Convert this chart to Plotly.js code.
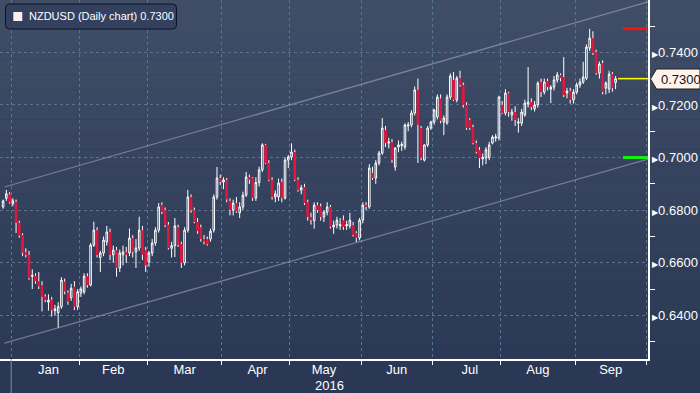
<!DOCTYPE html>
<html>
<head>
<meta charset="utf-8">
<script src="https://cdn.plot.ly/plotly-3.0.1.min.js"></script>
<style>
html,body{margin:0;padding:0;background:#2a3755;}
#chart{width:700px;height:393px;}
</style>
</head>
<body>
<div id="chart"></div>
<script>
// ---------------- DATA ----------------
const dates = [
'2015-12-29','2015-12-30','2015-12-31',
'2016-01-01','2016-01-04','2016-01-05','2016-01-06','2016-01-07','2016-01-08','2016-01-11','2016-01-12','2016-01-13','2016-01-14','2016-01-15','2016-01-18','2016-01-19','2016-01-20','2016-01-21','2016-01-22','2016-01-25','2016-01-26','2016-01-27','2016-01-28','2016-01-29',
'2016-02-01','2016-02-02','2016-02-03','2016-02-04','2016-02-05','2016-02-08','2016-02-09','2016-02-10','2016-02-11','2016-02-12','2016-02-15','2016-02-16','2016-02-17','2016-02-18','2016-02-19','2016-02-22','2016-02-23','2016-02-24','2016-02-25','2016-02-26','2016-02-29',
'2016-03-01','2016-03-02','2016-03-03','2016-03-04','2016-03-07','2016-03-08','2016-03-09','2016-03-10','2016-03-11','2016-03-14','2016-03-15','2016-03-16','2016-03-17','2016-03-18','2016-03-21','2016-03-22','2016-03-23','2016-03-24','2016-03-25','2016-03-28','2016-03-29','2016-03-30','2016-03-31',
'2016-04-01','2016-04-04','2016-04-05','2016-04-06','2016-04-07','2016-04-08','2016-04-11','2016-04-12','2016-04-13','2016-04-14','2016-04-15','2016-04-18','2016-04-19','2016-04-20','2016-04-21','2016-04-22','2016-04-25','2016-04-26','2016-04-27','2016-04-28','2016-04-29',
'2016-05-02','2016-05-03','2016-05-04','2016-05-05','2016-05-06','2016-05-09','2016-05-10','2016-05-11','2016-05-12','2016-05-13','2016-05-16','2016-05-17','2016-05-18','2016-05-19','2016-05-20','2016-05-23','2016-05-24','2016-05-25','2016-05-26','2016-05-27','2016-05-30','2016-05-31',
'2016-06-01','2016-06-02','2016-06-03','2016-06-06','2016-06-07','2016-06-08','2016-06-09','2016-06-10','2016-06-13','2016-06-14','2016-06-15','2016-06-16','2016-06-17','2016-06-20','2016-06-21','2016-06-22','2016-06-23','2016-06-24','2016-06-27','2016-06-28','2016-06-29','2016-06-30',
'2016-07-01','2016-07-04','2016-07-05','2016-07-06','2016-07-07','2016-07-08','2016-07-11','2016-07-12','2016-07-13','2016-07-14','2016-07-15','2016-07-18','2016-07-19','2016-07-20','2016-07-21','2016-07-22','2016-07-25','2016-07-26','2016-07-27','2016-07-28','2016-07-29',
'2016-08-01','2016-08-02','2016-08-03','2016-08-04','2016-08-05','2016-08-08','2016-08-09','2016-08-10','2016-08-11','2016-08-12','2016-08-15','2016-08-16','2016-08-17','2016-08-18','2016-08-19','2016-08-22','2016-08-23','2016-08-24','2016-08-25','2016-08-26','2016-08-29','2016-08-30','2016-08-31',
'2016-09-01','2016-09-02','2016-09-05','2016-09-06','2016-09-07','2016-09-08','2016-09-09','2016-09-12','2016-09-13','2016-09-14','2016-09-15','2016-09-16','2016-09-19'
];
const openPx = [
0.6812,0.6845,0.6860,
0.6825,0.6832,0.6752,0.6705,0.6640,0.6630,0.6548,0.6550,0.6530,0.6515,0.6472,0.6450,0.6460,0.6418,0.6410,0.6433,0.6528,0.6486,0.6467,0.6510,0.6433,
0.6485,0.6489,0.6549,0.6515,0.6667,0.6724,0.6620,0.6637,0.6679,0.6717,0.6630,0.6648,0.6580,0.6630,0.6641,0.6637,0.6694,0.6641,0.6656,0.6724,0.6648,
0.6603,0.6637,0.6675,0.6724,0.6820,0.6800,0.6745,0.6655,0.6665,0.6735,0.6672,0.6600,0.6724,0.6850,0.6800,0.6755,0.6735,0.6690,0.6690,0.6690,0.6724,0.6850,0.6922,
0.6907,0.6915,0.6835,0.6800,0.6827,0.6790,0.6812,0.6857,0.6926,0.6922,0.6846,0.6905,0.6953,0.7048,0.6979,0.6915,0.6850,0.6850,0.6907,0.6846,0.6990,
0.7002,0.7021,0.6915,0.6876,0.6888,0.6831,0.6774,0.6760,0.6819,0.6815,0.6774,0.6793,0.6812,0.6736,0.6743,0.6740,0.6762,0.6740,0.6740,0.6743,0.6713,0.6694,
0.6762,0.6819,0.6812,0.6941,0.6922,0.6979,0.7017,0.7105,0.7055,0.7059,0.6964,0.7040,0.7045,0.7040,0.7120,0.7124,0.7169,0.7257,0.7112,0.6990,0.7048,0.7112,
0.7135,0.7154,0.7225,0.7135,0.7131,0.7230,0.7295,0.7219,0.7302,0.7276,0.7200,0.7143,0.7116,0.7055,0.7029,0.6995,0.6998,0.7000,0.7055,0.7074,0.7074,
0.7200,0.7169,0.7245,0.7162,0.7173,0.7131,0.7131,0.7162,0.7203,0.7211,0.7185,0.7200,0.7287,0.7249,0.7291,0.7260,0.7268,0.7295,0.7314,0.7306,0.7245,0.7253,0.7219,
0.7249,0.7276,0.7287,0.7302,0.7416,0.7454,0.7401,0.7321,0.7359,0.7264,0.7260,0.7317,0.7285
];
const highPx = [
0.6840,0.6877,0.6868,
0.6845,0.6840,0.6760,0.6712,0.6655,0.6645,0.6575,0.6560,0.6565,0.6530,0.6480,0.6480,0.6470,0.6440,0.6450,0.6545,0.6540,0.6495,0.6520,0.6530,0.6500,
0.6510,0.6560,0.6560,0.6675,0.6756,0.6735,0.6645,0.6700,0.6740,0.6730,0.6665,0.6660,0.6650,0.6665,0.6660,0.6730,0.6705,0.6690,0.6775,0.6740,0.6660,
0.6645,0.6690,0.6735,0.6827,0.6830,0.6810,0.6755,0.6680,0.6770,0.6745,0.6680,0.6735,0.6877,0.6860,0.6810,0.6770,0.6745,0.6705,0.6700,0.6730,0.6860,0.6964,0.6935,
0.6925,0.6922,0.6845,0.6840,0.6850,0.6830,0.6870,0.6945,0.6935,0.6925,0.6925,0.6965,0.7054,0.7052,0.6990,0.6925,0.6875,0.6920,0.6920,0.7000,0.7010,
0.7054,0.7030,0.6925,0.6895,0.6900,0.6840,0.6790,0.6830,0.6830,0.6825,0.6800,0.6830,0.6820,0.6760,0.6775,0.6770,0.6780,0.6760,0.6790,0.6755,0.6720,0.6770,
0.6830,0.6830,0.6975,0.6965,0.6990,0.7025,0.7150,0.7120,0.7075,0.7070,0.7040,0.7065,0.7060,0.7130,0.7135,0.7180,0.7270,0.7300,0.7120,0.7050,0.7120,0.7140,
0.7185,0.7240,0.7240,0.7160,0.7240,0.7320,0.7325,0.7310,0.7330,0.7285,0.7210,0.7150,0.7125,0.7065,0.7040,0.7015,0.7040,0.7060,0.7085,0.7090,0.7235,
0.7215,0.7260,0.7250,0.7185,0.7195,0.7150,0.7185,0.7220,0.7344,0.7225,0.7215,0.7290,0.7300,0.7300,0.7300,0.7275,0.7310,0.7325,0.7320,0.7382,0.7265,0.7265,0.7260,
0.7285,0.7300,0.7364,0.7430,0.7489,0.7480,0.7410,0.7365,0.7370,0.7290,0.7330,0.7325,0.7310
];
const lowPx = [
0.6805,0.6835,0.6825,
0.6815,0.6713,0.6695,0.6625,0.6620,0.6535,0.6500,0.6520,0.6500,0.6415,0.6450,0.6418,0.6395,0.6400,0.6353,0.6425,0.6480,0.6440,0.6455,0.6420,0.6420,
0.6470,0.6480,0.6505,0.6510,0.6660,0.6620,0.6565,0.6625,0.6665,0.6610,0.6600,0.6547,0.6565,0.6590,0.6600,0.6625,0.6620,0.6580,0.6645,0.6610,0.6565,
0.6585,0.6625,0.6665,0.6715,0.6785,0.6735,0.6650,0.6620,0.6622,0.6660,0.6580,0.6590,0.6715,0.6790,0.6750,0.6710,0.6680,0.6670,0.6665,0.6680,0.6715,0.6840,0.6895,
0.6880,0.6830,0.6780,0.6780,0.6790,0.6770,0.6800,0.6850,0.6900,0.6835,0.6835,0.6890,0.6945,0.6975,0.6910,0.6840,0.6830,0.6835,0.6830,0.6840,0.6960,
0.6990,0.6910,0.6870,0.6860,0.6820,0.6760,0.6745,0.6730,0.6790,0.6760,0.6755,0.6780,0.6730,0.6710,0.6730,0.6725,0.6725,0.6725,0.6730,0.6700,0.6679,0.6685,
0.6750,0.6800,0.6805,0.6915,0.6900,0.6970,0.7010,0.7040,0.7035,0.6980,0.6950,0.7020,0.7025,0.7030,0.7100,0.7115,0.7160,0.6979,0.6990,0.6985,0.7040,0.7105,
0.7125,0.7145,0.7130,0.7085,0.7125,0.7220,0.7215,0.7210,0.7270,0.7190,0.7105,0.7105,0.7050,0.7015,0.6960,0.6970,0.6975,0.6990,0.7050,0.7060,0.7065,
0.7165,0.7160,0.7155,0.7140,0.7120,0.7095,0.7120,0.7155,0.7190,0.7180,0.7175,0.7190,0.7230,0.7240,0.7255,0.7207,0.7255,0.7285,0.7290,0.7230,0.7225,0.7205,0.7205,
0.7240,0.7265,0.7280,0.7295,0.7405,0.7390,0.7315,0.7300,0.7240,0.7240,0.7245,0.7250,0.7260
];
const closePx = [
0.6835,0.6862,0.6830,
0.6835,0.6752,0.6703,0.6638,0.6630,0.6541,0.6552,0.6530,0.6510,0.6470,0.6458,0.6458,0.6420,0.6425,0.6433,0.6534,0.6490,0.6452,0.6503,0.6432,0.6490,
0.6500,0.6549,0.6515,0.6667,0.6724,0.6629,0.6637,0.6686,0.6717,0.6630,0.6648,0.6580,0.6637,0.6641,0.6630,0.6694,0.6641,0.6656,0.6724,0.6630,0.6591,
0.6637,0.6675,0.6724,0.6812,0.6793,0.6743,0.6656,0.6665,0.6740,0.6668,0.6600,0.6724,0.6850,0.6800,0.6755,0.6720,0.6690,0.6680,0.6670,0.6720,0.6850,0.6922,0.6907,
0.6915,0.6840,0.6800,0.6827,0.6795,0.6812,0.6857,0.6926,0.6915,0.6846,0.6905,0.6953,0.7048,0.6979,0.6915,0.6850,0.6862,0.6903,0.6846,0.6990,0.7002,
0.7021,0.6915,0.6876,0.6885,0.6827,0.6774,0.6762,0.6819,0.6800,0.6774,0.6793,0.6812,0.6736,0.6743,0.6762,0.6745,0.6736,0.6745,0.6762,0.6705,0.6694,0.6762,
0.6819,0.6812,0.6960,0.6922,0.6979,0.7017,0.7112,0.7055,0.7059,0.6990,0.7036,0.7048,0.7050,0.7124,0.7124,0.7169,0.7257,0.7124,0.6998,0.7048,0.7112,0.7135,
0.7181,0.7230,0.7140,0.7150,0.7230,0.7310,0.7219,0.7302,0.7276,0.7200,0.7112,0.7112,0.7055,0.7021,0.6998,0.7000,0.7030,0.7048,0.7078,0.7078,0.7230,
0.7169,0.7245,0.7173,0.7173,0.7143,0.7135,0.7173,0.7207,0.7211,0.7192,0.7200,0.7283,0.7249,0.7287,0.7268,0.7268,0.7295,0.7314,0.7302,0.7238,0.7253,0.7219,0.7249,
0.7276,0.7287,0.7306,0.7420,0.7454,0.7397,0.7321,0.7355,0.7249,0.7283,0.7317,0.7264,0.7300
];
const priceTicks = [0.64, 0.66, 0.68, 0.70, 0.72, 0.74];
const priceTickLabels = ['0.6400','0.6600','0.6800','0.7000','0.7200','0.7400'];
const lastPrice = 0.7300;
const redLevel = 0.7490;
const greenLevel = 0.7000;
const channelUpper = [0.6888, 0.7592];
const channelLower = [0.6294, 0.6994];
const seriesName = 'NZDUSD (Daily chart)';
const yearLabel = '2016';

// ---------------- BUILD ----------------
const W = 700, H = 393, ML = 0, MR = 52, MT = 0, MB = 34;
const PW = W - ML - MR, PH = H - MT - MB;
const px = x => (x - ML) / PW;          // pixel -> paper x
const py = y => 1 - (y - MT) / PH;      // pixel -> paper y

const xs = dates.map(d => d + ' 12:00');
const bodyHi = openPx.map((o, i) => Math.max(o, closePx[i]));
const bodyLo = openPx.map((o, i) => Math.min(o, closePx[i]));

const wx = [], wy = [];
xs.forEach((x, i) => {
  wx.push(x, x, null, x, x, null);
  wy.push(lowPx[i], bodyLo[i], null, bodyHi[i], highPx[i], null);
});

const wicks = {
  type: 'scatter', mode: 'lines', x: wx, y: wy,
  line: {color: '#ffffff', width: 1}, hoverinfo: 'skip', showlegend: false,
  connectgaps: false
};
const bodies = {
  type: 'candlestick', x: xs, open: openPx, high: bodyHi, low: bodyLo, close: closePx,
  increasing: {line: {color: '#ffffff', width: 1}, fillcolor: 'rgba(0,0,0,0)'},
  decreasing: {line: {color: '#e3173e', width: 1}, fillcolor: '#e3173e'},
  whiskerwidth: 0, hoverinfo: 'skip', showlegend: false
};

const shapes = [];
// background bands (gradient)
const N = 24;
const c0 = [64, 77, 103], c1 = [44, 57, 86];
for (let i = 0; i < N; i++) {
  const t = i / (N - 1);
  const c = c0.map((v, j) => Math.round(v + (c1[j] - v) * t));
  shapes.push({type: 'rect', xref: 'paper', yref: 'paper', layer: 'below',
    x0: 0, x1: W / PW, y0: 1 - (i + 1) / N, y1: 1 - i / N,
    fillcolor: `rgb(${c[0]},${c[1]},${c[2]})`, line: {width: 0}});
}
// channel lines
shapes.push({type: 'line', xref: 'paper', yref: 'y', x0: px(4.5), x1: 1, y0: channelUpper[0], y1: channelUpper[1],
  line: {color: 'rgba(200,208,222,0.42)', width: 1.3}});
shapes.push({type: 'line', xref: 'paper', yref: 'y', x0: px(4.5), x1: 1, y0: channelLower[0], y1: channelLower[1],
  line: {color: 'rgba(200,208,222,0.42)', width: 1.3}});
// level lines
shapes.push({type: 'line', xref: 'paper', yref: 'y', x0: px(623), x1: 1, y0: redLevel, y1: redLevel, line: {color: '#ff1010', width: 3}});
shapes.push({type: 'line', xref: 'paper', yref: 'y', x0: px(623), x1: 1, y0: greenLevel, y1: greenLevel, line: {color: '#14f014', width: 3}});
shapes.push({type: 'line', xref: 'paper', yref: 'y', x0: px(618), x1: 1, y0: lastPrice, y1: lastPrice, line: {color: '#ffff00', width: 1.5}});
// year separator below axis
shapes.push({type: 'line', xref: 'paper', yref: 'paper', x0: px(11.2), x1: px(11.2), y0: 0, y1: py(393),
  line: {color: '#7f8ca0', width: 1}});
// legend box (rounded)
(function(){
  const x0 = 5.5, x1 = 176.5, y0 = 4, y1 = 29, r = 4;
  const P = (x, y) => px(x) + ' ' + py(y);
  const path = `M ${P(x0 + r, y0)} L ${P(x1 - r, y0)} Q ${P(x1, y0)} ${P(x1, y0 + r)} L ${P(x1, y1 - r)} Q ${P(x1, y1)} ${P(x1 - r, y1)} L ${P(x0 + r, y1)} Q ${P(x0, y1)} ${P(x0, y1 - r)} L ${P(x0, y0 + r)} Q ${P(x0, y0)} ${P(x0 + r, y0)} Z`;
  shapes.push({type: 'path', xref: 'paper', yref: 'paper', path: path, fillcolor: '#33415f', line: {color: '#0d1220', width: 1}});
  shapes.push({type: 'rect', xref: 'paper', yref: 'paper', x0: px(13.3), x1: px(22.3), y0: py(21), y1: py(12),
    fillcolor: '#fdf0ec', line: {width: 0}});
  // price tag
  const tag = `M ${P(650.5, 79)} L ${P(656.5, 69)} L ${P(700, 69)} L ${P(700, 89)} L ${P(656.5, 89)} Z`;
  shapes.push({type: 'path', xref: 'paper', yref: 'paper', path: tag, fillcolor: '#fff3ec', line: {color: '#222222', width: 1}});
})();

const font = 'Liberation Sans, Arial, sans-serif';
const annotations = [
  {xref: 'paper', yref: 'paper', x: px(27), y: py(16.5), xanchor: 'left', yanchor: 'middle', showarrow: false,
   text: seriesName + ' ' + lastPrice.toFixed(4), font: {family: font, size: 11, color: '#ffffff'}},
  {xref: 'paper', yref: 'paper', x: px(659), y: py(79.5), xanchor: 'left', yanchor: 'middle', showarrow: false,
   text: lastPrice.toFixed(4), font: {family: font, size: 13, color: '#111111'}},
  {xref: 'paper', yref: 'paper', x: px(329), y: py(385), xanchor: 'center', yanchor: 'middle', showarrow: false,
   text: yearLabel, font: {family: font, size: 13, color: '#ffffff'}}
];

const layout = {
  width: W, height: H,
  margin: {l: ML, r: MR, t: MT, b: MB, pad: 0},
  paper_bgcolor: '#2a3755',
  plot_bgcolor: 'rgba(0,0,0,0)',
  showlegend: false,
  hovermode: false,
  dragmode: false,
  xaxis: {
    type: 'date',
    range: ['2015-12-28 13:00', '2016-10-03 12:00'],
    rangebreaks: [{bounds: ['sat', 'mon']}],
    rangeslider: {visible: false},
    tick0: '2016-01-01', dtick: 'M1', ticklabelmode: 'period', tickformat: '%b',
    ticks: 'outside', ticklen: 4, tickwidth: 1, tickcolor: '#ffffff',
    ticklabelstandoff: -6,
    showline: true, linecolor: '#ffffff', linewidth: 1.5,
    showgrid: true, gridcolor: '#5a7591', griddash: '3px,3px', gridwidth: 1,
    zeroline: false, fixedrange: true,
    tickfont: {family: font, size: 13, color: '#ffffff'}
  },
  yaxis: {
    side: 'right',
    range: [0.6234, 0.7599],
    tickmode: 'array', tickvals: priceTicks,
    ticktext: priceTickLabels.map(t => '<span style="font-size:8px">\u25B6</span>' + t),
    ticks: '', showline: true, linecolor: '#ffffff', linewidth: 1.5,
    showgrid: true, gridcolor: '#5a7591', griddash: '3px,3px', gridwidth: 1,
    minor: {tickmode: 'linear', tick0: 0.63, dtick: 0.02, ticks: 'outside', ticklen: 5, tickcolor: '#ffffff', showgrid: false},
    zeroline: false, fixedrange: true,
    tickfont: {family: font, size: 13, color: '#ffffff'}
  },
  shapes: shapes,
  annotations: annotations
};

Plotly.newPlot('chart', [wicks, bodies], layout, {displayModeBar: false, staticPlot: true});
</script>
</body>
</html>
